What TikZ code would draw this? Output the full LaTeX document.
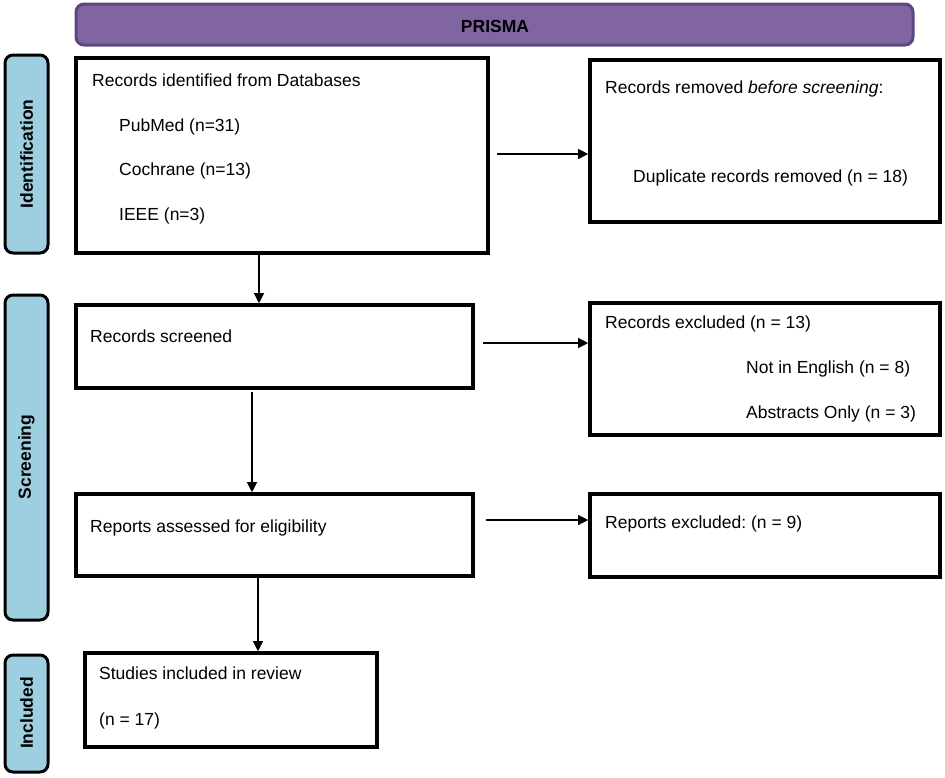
\documentclass[tikz,border=0pt]{standalone}
\usepackage{fontspec}
\setmainfont{Liberation Sans}
\usetikzlibrary{arrows.meta}
\frenchspacing
\definecolor{hdrfill}{HTML}{8165A1}
\definecolor{hdrdraw}{HTML}{5D4780}
\definecolor{sidefill}{HTML}{9DCFE1}
\tikzset{
  flowbox/.style={draw=black, line width=3.6pt, fill=white},
  sidebox/.style={draw=black, line width=3pt, fill=sidefill, rounded corners=8pt},
  sidelabel/.style={rotate=90, font=\fontsize{17.5}{20}\selectfont\bfseries},
  txt/.style={anchor=base west, inner sep=0pt, font=\fontsize{17.5}{20}\selectfont},
  conn/.style={line width=1.2pt, -{Triangle[length=10pt,width=10pt]}},
}
\begin{document}
\begin{tikzpicture}[x=1pt,y=-1pt]
\useasboundingbox (0,0) rectangle (945,777);
% header
\draw[fill=hdrfill, draw=hdrdraw, line width=3pt, rounded corners=8pt] (76,4) rectangle (913,45);
\node[anchor=base, inner sep=0pt, font=\fontsize{17.5}{20}\selectfont\bfseries] (hdr) at (495,32) {PRISMA};
% side boxes
\draw[sidebox] (5,55) rectangle (48,253);
\node[sidelabel] (lid) at (26.5,154) {Identification};
\draw[sidebox] (5,295) rectangle (48,620);
\node[sidelabel] (lsc) at (26.5,457) {Screening};
\draw[sidebox] (5,655) rectangle (48,772);
\node[sidelabel] (lin) at (26.5,713) {Included};
% main boxes (as rectangle nodes)
\node[flowbox, minimum width=412pt, minimum height=195pt, inner sep=0pt] (ident) at (282,155.5) {};
\node[flowbox, minimum width=350pt, minimum height=162pt, inner sep=0pt] (removed) at (765,141) {};
\node[flowbox, minimum width=397pt, minimum height=83pt, inner sep=0pt] (screened) at (274.5,346.5) {};
\node[flowbox, minimum width=350pt, minimum height=132pt, inner sep=0pt] (excluded) at (765,369) {};
\node[flowbox, minimum width=397pt, minimum height=82pt, inner sep=0pt] (assessed) at (274.5,535) {};
\node[flowbox, minimum width=350pt, minimum height=83pt, inner sep=0pt] (repexcl) at (765,535.5) {};
\node[flowbox, minimum width=292pt, minimum height=94pt, inner sep=0pt] (included) at (231,700) {};
% texts
\node[txt] (t1) at (92,86) {Records identified from Databases};
\node[txt] (t2) at (119,131) {PubMed (n=31)};
\node[txt] (t3) at (119,175) {Cochrane (n=13)};
\node[txt] (t4) at (119,220) {IEEE (n=3)};
\node[txt] (t5) at (605,93) {Records removed \textit{before screening}:};
\node[txt] (t6) at (633,182) {Duplicate records removed (n = 18)};
\node[txt] (t7) at (90,342) {Records screened};
\node[txt] (t8) at (605,328) {Records excluded (n = 13)};
\node[txt] (t9) at (746,373) {Not in English (n = 8)};
\node[txt] (t10) at (746,418) {Abstracts Only (n = 3)};
\node[txt] (t11) at (90,532) {Reports assessed for eligibility};
\node[txt] (t12) at (605,528) {Reports excluded: (n = 9)};
\node[txt] (t13) at (99,679) {Studies included in review};
\node[txt] (t14) at (99,725) {(n = 17)};
% connectors
\coordinate (a1s) at (497,154);
\draw[conn] (a1s) -- (removed.west |- a1s);
\coordinate (a2s) at (483,343);
\draw[conn] (a2s) -- (excluded.west |- a2s);
\coordinate (a3s) at (486,520);
\draw[conn] (a3s) -- (repexcl.west |- a3s);
\draw[conn] (259,253) coordinate (d1) -- (d1 |- screened.north);
\draw[conn] (252,392) coordinate (d2) -- (d2 |- assessed.north);
\draw[conn] (258,576) coordinate (d3) -- (d3 |- included.north);
\end{tikzpicture}
\end{document}
